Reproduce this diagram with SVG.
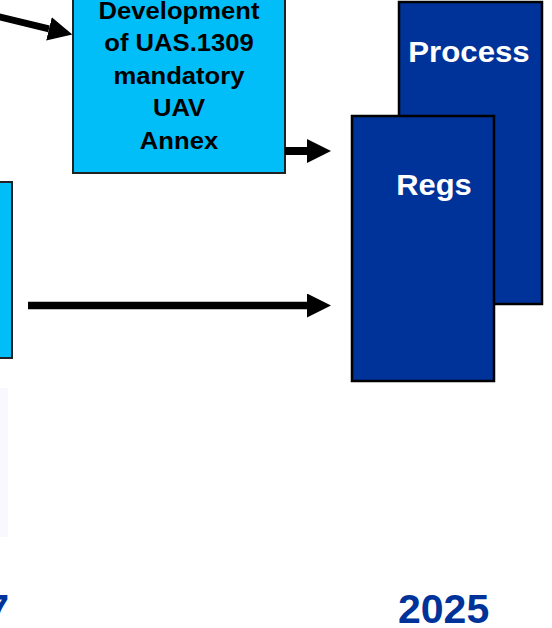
<svg xmlns="http://www.w3.org/2000/svg" width="552" height="628" viewBox="0 0 552 628">
<style>
.lb{fill:#02BEF8;stroke:#222;stroke-width:2}
.db{fill:#003399;stroke:#000;stroke-width:2.5}
.t{font-family:"Liberation Sans",Arial,sans-serif;font-weight:bold;text-anchor:middle}
.tb{fill:#000;font-size:23.5px}
.tw{fill:#fff;font-size:30px}
.yr{fill:#003399;font-size:41px}
.c{stroke:#000;fill:none}
</style>
<defs>
<marker id="ah" markerUnits="userSpaceOnUse" markerWidth="24" markerHeight="24" refX="0" refY="12" orient="auto" viewBox="0 0 24 24">
<path d="M0,0 L24,12 L0,24 Z" fill="#000"/>
</marker>
</defs>
<rect width="552" height="628" fill="#fff"/>
<g id="left-box-faint"><rect x="-10" y="388" width="18" height="149" fill="#F8F8FE"/></g>
<g id="left-box"><rect class="lb" x="-10" y="182" width="22" height="176"/></g>
<g id="dev-box">
<rect class="lb" x="73" y="-40" width="212" height="213"/>
<text class="t tb" transform="translate(179,18.5) scale(1.09,1)">Development</text>
<text class="t tb" transform="translate(179,51) scale(1.09,1)">of UAS.1309</text>
<text class="t tb" transform="translate(179,83.5) scale(1.09,1)">mandatory</text>
<text class="t tb" transform="translate(179,116) scale(1.09,1)">UAV</text>
<text class="t tb" transform="translate(179,148.5) scale(1.09,1)">Annex</text>
</g>
<g id="process-box">
<rect class="db" x="399" y="2" width="143" height="302"/>
<text class="t tw" transform="translate(469,62) scale(1.04,1)">Process</text>
</g>
<g id="regs-box">
<rect class="db" x="352" y="116" width="142" height="265"/>
<text class="t tw" transform="translate(434,195) scale(1.03,1)">Regs</text>
</g>
<g id="connectors">
<line class="c" x1="-5" y1="15.8" x2="49" y2="28.8" stroke-width="7" marker-end="url(#ah)"/>
<line class="c" x1="285" y1="151" x2="307" y2="151" stroke-width="8" marker-end="url(#ah)"/>
<line class="c" x1="28" y1="305.5" x2="307" y2="305.5" stroke-width="7.5" marker-end="url(#ah)"/>
</g>
<g id="years">
<text class="t yr" x="9" y="623" style="text-anchor:end">7</text>
<text class="t yr" x="398" y="623" style="text-anchor:start">2025</text>
</g>
</svg>
